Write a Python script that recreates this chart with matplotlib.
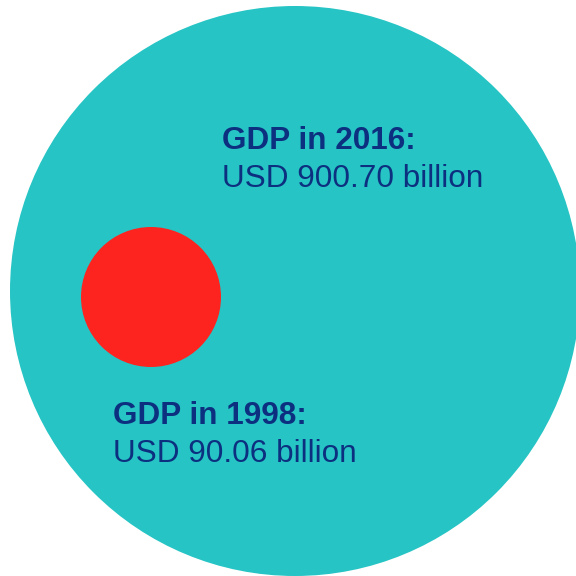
import matplotlib.pyplot as plt
from matplotlib.patches import Circle

# GDP values (USD billion)
years = ["2016", "1998"]
gdp = [900.70, 90.06]

teal = "#26c4c4"
red = "#fd241f"
navy = "#0c2f7f"

fig = plt.figure(figsize=(5.76, 5.76), dpi=100)
ax = fig.add_axes([0, 0, 1, 1])
ax.set_xlim(0, 576)
ax.set_ylim(576, 0)
ax.set_aspect("equal")
ax.axis("off")

# bubbles (big one for 2016, small one for 1998)
ax.add_patch(Circle((295, 291), 285, color=teal, lw=0))
ax.add_patch(Circle((151, 297), 70, color=red, lw=0))

# labels
label_pos = [(222, 149, 187), (113, 424, 462)]
for yr, val, (x, yb, yv) in zip(years, gdp, label_pos):
    ax.text(x, yb, f"GDP in {yr}:", fontsize=22.7, fontweight="bold",
            color=navy, family="Liberation Sans", va="baseline")
    ax.text(x, yv, f"USD {val:.2f} billion", fontsize=22.7,
            color=navy, family="Liberation Sans", va="baseline")

fig.savefig("out.png", dpi=100)
